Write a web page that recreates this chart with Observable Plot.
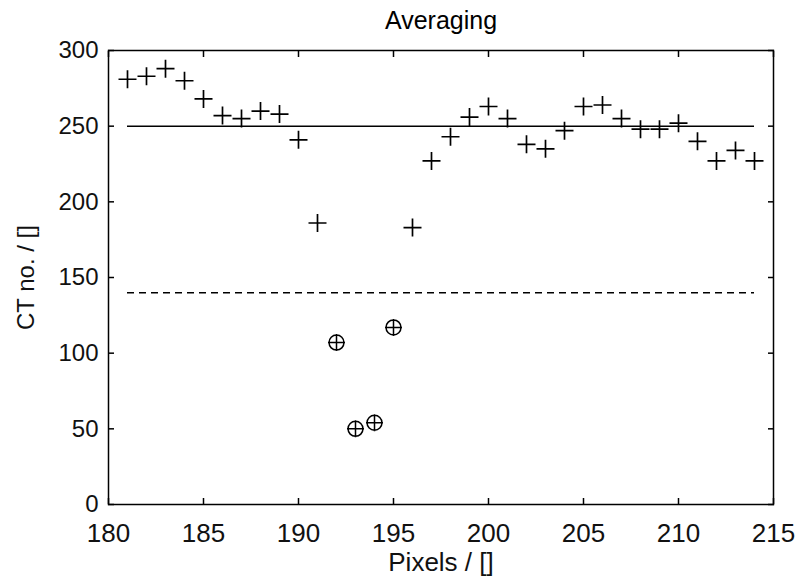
<!DOCTYPE html>
<html>
<head>
<meta charset="utf-8">
<script src="https://cdn.jsdelivr.net/npm/d3@7"></script>
<script src="https://cdn.jsdelivr.net/npm/@observablehq/plot@0.6"></script>
<style>
  html, body { margin: 0; padding: 0; background: #fff; }
  #chart svg { display: block; }
</style>
</head>
<body>
<div id="chart"></div>
<script>
// ---- data ----
const pixels = [181, 182, 183, 184, 185, 186, 187, 188, 189, 190,
                191, 192, 193, 194, 195, 196, 197, 198, 199, 200,
                201, 202, 203, 204, 205, 206, 207, 208, 209, 210,
                211, 212, 213, 214];
const ctNumbers = [281, 283, 288, 280, 268, 257, 255, 260, 258, 241,
                   186, 107, 50, 54, 117, 183, 227, 243, 256, 263,
                   255, 238, 235, 247, 263, 264, 255, 248, 248, 252,
                   240, 227, 234, 227];
const averageLevel = [250];
const thresholdLevel = [140];
const lineStart = 181;
const lineEnd = 214;
const xTicks = [180, 185, 190, 195, 200, 205, 210, 215];
const yTicks = [0, 50, 100, 150, 200, 250, 300];
const titleText = "Averaging";
const xLabel = "Pixels / []";
const yLabel = "CT no. / []";

const points = pixels.map((p, i) => ({pixel: p, ct: ctNumbers[i]}));
const normal = points.filter(d => d.ct >= thresholdLevel[0]);
const below = points.filter(d => d.ct < thresholdLevel[0]);

// custom symbols (size = r*r*PI in Plot)
const plusSymbol = {
  draw(ctx, size) {
    const r = Math.sqrt(size / Math.PI);
    ctx.moveTo(-r, 0); ctx.lineTo(r, 0);
    ctx.moveTo(0, -r); ctx.lineTo(0, r);
  }
};
const circlePlusSymbol = {
  draw(ctx, size) {
    const r = Math.sqrt(size / Math.PI);
    const rc = r * 0.88;
    ctx.moveTo(rc, 0); ctx.arc(0, 0, rc, 0, 2 * Math.PI);
    ctx.moveTo(-r, 0); ctx.lineTo(r, 0);
    ctx.moveTo(0, -r); ctx.lineTo(0, r);
  }
};

const font = "'Liberation Sans', Arial, sans-serif";

const chart = Plot.plot({
  width: 796,
  height: 579,
  marginLeft: 108,
  marginRight: 23,
  marginTop: 50,
  marginBottom: 75,
  style: {fontFamily: font, fontSize: "25px", color: "#000", background: "#fff"},
  x: {domain: [180, 215]},
  y: {domain: [0, 300]},
  marks: [
    Plot.frame({stroke: "#000", strokeWidth: 1.5}),
    // bottom axis with labels
    Plot.axisX(xTicks, {anchor: "bottom", tickSize: -6, tickPadding: 25, strokeWidth: 1.5,
      fontSize: 26, fill: "#111", label: xLabel, labelAnchor: "center", labelArrow: "none", labelOffset: 66}),
    Plot.axisX(xTicks, {anchor: "top", tickSize: -6, strokeWidth: 1.5, tickFormat: () => "", label: null}),
    Plot.axisY(yTicks, {anchor: "left", tickSize: -6, tickPadding: 16, strokeWidth: 1.5,
      fontSize: 24, fill: "#111", label: yLabel, labelAnchor: "center", labelArrow: "none", labelOffset: 92}),
    Plot.axisY(yTicks, {anchor: "right", tickSize: -6, strokeWidth: 1.5, tickFormat: () => "", label: null}),
    Plot.ruleY(averageLevel, {x1: lineStart, x2: lineEnd, stroke: "#000", strokeWidth: 1.5}),
    Plot.ruleY(thresholdLevel, {x1: lineStart, x2: lineEnd, stroke: "#000", strokeWidth: 1.5, strokeDasharray: "7,5"}),
    Plot.dot(normal, {x: "pixel", y: "ct", symbol: plusSymbol, r: 9, fill: "none", stroke: "#000", strokeWidth: 1.7}),
    Plot.dot(below, {x: "pixel", y: "ct", symbol: circlePlusSymbol, r: 8.5, fill: "none", stroke: "#000", strokeWidth: 1.5}),
    Plot.text([titleText], {frameAnchor: "top", dy: -39, fontSize: 25, fill: "#000", lineAnchor: "top"})
  ]
});
document.getElementById("chart").appendChild(chart);
</script>
</body>
</html>
